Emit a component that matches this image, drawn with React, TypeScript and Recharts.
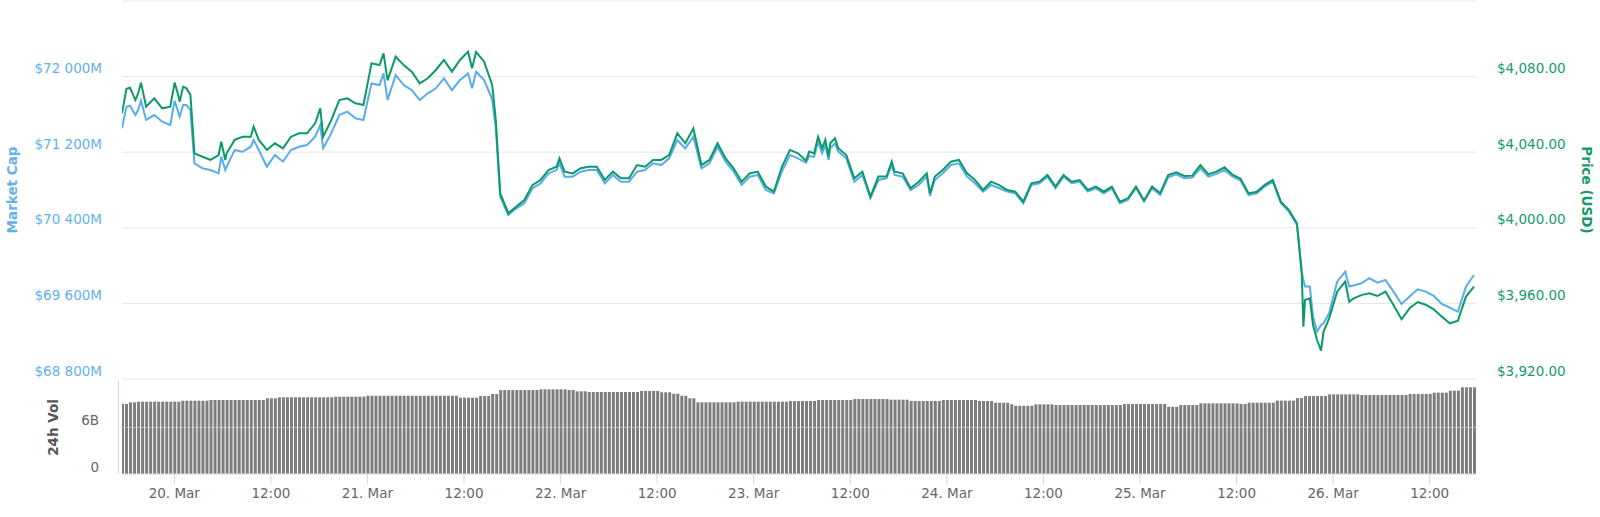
import React from 'react';
import { LineChart, Line, XAxis, YAxis, CartesianGrid, BarChart, Bar, ReferenceLine } from 'recharts';

const HOUR = 3600000;
const DAY0 = Date.UTC(2019, 2, 20, 0, 0);
const START = DAY0 - 6.5 * HOUR; // 19 Mar 17:30
const DOMAIN: [number, number] = [DAY0 - 6.5 * HOUR, DAY0 + 161.75 * HOUR];

// sample times, hours after 19 Mar 17:30
const TIME_H = [
  0, 0.55, 1, 1.66, 2, 2.36, 3, 4, 5, 6,
  6.54, 7, 7.16, 7.6, 8, 8.5, 9, 10, 11, 12,
  12.34, 12.83, 13, 14, 15, 16, 16.36, 17, 18, 19,
  20, 21, 22, 23, 24, 24.64, 25, 26, 27, 28,
  29, 30, 31, 32, 32.5, 33, 34, 35, 36, 37,
  38, 39, 40, 41, 42, 43, 43.5, 44, 45, 46,
  46.45, 47, 48, 49, 50, 51, 52, 53, 54, 54.36,
  55, 56, 57, 58, 59, 60, 61, 62, 63, 64,
  65, 66, 67, 68, 69, 70, 71, 72, 73, 74,
  75, 76, 77, 78, 79, 80, 81, 82, 83, 84,
  85, 85.4, 86, 86.5, 87, 87.4, 87.8, 88, 88.6, 89,
  90, 91, 92, 93, 94, 95, 95.65, 96, 97, 98,
  99, 100, 100.4, 101, 102, 103, 104, 105, 106, 107,
  108, 109, 110, 111, 112, 113, 114, 115, 116, 117,
  118, 119, 120, 121, 122, 123, 124, 125, 126, 127,
  128, 129, 130, 131, 132, 133, 134, 135, 136, 137,
  138, 139, 140, 141, 142, 143, 144, 145, 146, 146.6,
  146.8, 147, 147.6, 148, 148.5, 149, 149.3, 150, 151, 152,
  152.5, 153, 154, 155, 156, 157, 158, 159, 160, 161,
  162, 163, 164, 165, 166, 167, 168,
];

// price (USD)
const PRICE_USD = [
  4060.6, 4073.5, 4074.1, 4067.6, 4071.1, 4076.8, 4064.1, 4068.5, 4063.2, 4064.1,
  4076.8, 4070.0, 4066.7, 4074.7, 4073.8, 4070.3, 4039.4, 4037.6, 4035.9, 4038.5,
  4045.6, 4035.9, 4039.4, 4046.5, 4048.2, 4048.2, 4053.5, 4046.5, 4041.2, 4044.7,
  4042.0, 4048.2, 4050.0, 4050.0, 4055.3, 4063.2, 4048.2, 4057.0, 4067.6, 4068.5,
  4065.9, 4065.0, 4087.0, 4086.1, 4092.3, 4078.0, 4090.6, 4086.1, 4082.6, 4076.4,
  4079.1, 4083.5, 4088.8, 4082.6, 4088.8, 4093.2, 4084.4, 4093.0, 4087.9, 4075.6,
  4057.0, 4018.2, 4007.7, 4011.2, 4014.7, 4022.6, 4025.3, 4030.6, 4032.3, 4036.7,
  4029.7, 4028.8, 4031.5, 4032.3, 4032.3, 4025.3, 4029.7, 4026.2, 4026.2, 4033.2,
  4032.3, 4035.9, 4035.9, 4038.5, 4050.0, 4044.7, 4052.6, 4033.2, 4035.9, 4044.7,
  4036.7, 4031.5, 4024.4, 4028.8, 4029.7, 4021.8, 4019.1, 4032.3, 4041.2, 4039.4,
  4035.5, 4040.3, 4039.4, 4048.2, 4042.1, 4046.5, 4037.6, 4044.7, 4047.3, 4042.1,
  4038.5, 4026.2, 4029.7, 4016.5, 4027.1, 4027.1, 4035.0, 4029.7, 4028.8, 4020.9,
  4024.4, 4028.8, 4018.2, 4027.1, 4030.6, 4035.0, 4035.9, 4028.8, 4025.3, 4020.0,
  4024.4, 4022.6, 4020.0, 4019.1, 4013.8, 4023.5, 4024.4, 4027.9, 4021.8, 4027.9,
  4024.4, 4025.3, 4020.0, 4021.8, 4019.1, 4021.8, 4013.8, 4015.6, 4021.8, 4014.5,
  4021.8, 4018.3, 4027.9, 4029.4, 4027.4, 4027.6, 4033.2, 4028.3, 4029.7, 4032.0,
  4028.1, 4026.0, 4018.2, 4019.1, 4022.7, 4025.3, 4013.8, 4009.4, 4002.4, 3975.9,
  3947.7, 3961.8, 3962.7, 3948.6, 3940.6, 3935.0, 3945.0, 3952.1, 3966.2, 3971.5,
  3960.9, 3962.5, 3964.4, 3965.3, 3963.9, 3966.2, 3959.2, 3951.6, 3957.4, 3960.7,
  3959.3, 3956.9, 3953.0, 3949.4, 3950.9, 3963.6, 3968.9,
];

// market cap (million USD)
const MARKET_CAP_M = [
  71452, 71680, 71692, 71593, 71646, 71745, 71541, 71593, 71523, 71488,
  71745, 71620, 71576, 71699, 71699, 71646, 71082, 71029, 71011, 70976,
  71153, 71011, 71047, 71223, 71205, 71258, 71329, 71223, 71047, 71170,
  71100, 71223, 71258, 71276, 71364, 71488, 71241, 71399, 71593, 71629,
  71558, 71541, 71928, 71911, 72034, 71752, 72017, 71911, 71858, 71752,
  71823, 71876, 71981, 71858, 71964, 72034, 71876, 72052, 71964, 71759,
  71452, 70729, 70535, 70606, 70659, 70817, 70870, 70976, 71011, 71082,
  70941, 70941, 70994, 71011, 71011, 70870, 70959, 70888, 70888, 70994,
  71011, 71082, 71064, 71135, 71329, 71241, 71364, 71029, 71082, 71258,
  71100, 70994, 70853, 70941, 70959, 70800, 70765, 70994, 71170, 71135,
  71090, 71160, 71150, 71312, 71188, 71276, 71118, 71241, 71294, 71206,
  71135, 70888, 70959, 70712, 70906, 70924, 71065, 70959, 70941, 70800,
  70853, 70941, 70737, 70906, 70977, 71065, 71082, 70941, 70871, 70783,
  70853, 70818, 70783, 70765, 70659, 70853, 70871, 70941, 70818, 70941,
  70871, 70888, 70783, 70818, 70765, 70818, 70659, 70694, 70818, 70680,
  70818, 70747, 70934, 70966, 70924, 70931, 71030, 70941, 70970, 71012,
  70941, 70899, 70747, 70765, 70836, 70889, 70659, 70571, 70430, 69936,
  69848, 69778, 69778, 69460, 69301, 69372, 69389, 69495, 69830, 69936,
  69778, 69790, 69813, 69866, 69820, 69848, 69725, 69594, 69672, 69749,
  69725, 69679, 69594, 69555, 69513, 69778, 69901,
];

// half-hourly 24h volume (billion USD)
const VOLUME_24H_B = [
  9.03, 9.03, 9.25, 9.25,
  9.33, 9.33, 9.33, 9.33, 9.33, 9.33, 9.33, 9.33, 9.33, 9.33, 9.33,
  9.46, 9.46, 9.46, 9.46, 9.46, 9.46, 9.46,
  9.55, 9.55, 9.55, 9.55, 9.55, 9.55, 9.55, 9.55, 9.55, 9.55, 9.55, 9.55, 9.55, 9.55,
  9.77, 9.77, 9.77,
  9.90, 9.90, 9.90, 9.90, 9.90, 9.90, 9.90, 9.90, 9.90, 9.90, 9.90, 9.90, 9.90, 9.90,
  9.98, 9.98, 9.98, 9.98, 9.98, 9.98, 9.98, 9.98,
  10.10, 10.10, 10.10, 10.10, 10.10, 10.10, 10.10, 10.10, 10.10, 10.10, 10.10, 10.10,
  10.10, 10.10, 10.10, 10.10, 10.10, 10.10, 10.10, 10.10, 10.10, 10.10, 10.10,
  9.85, 9.85, 9.85, 9.85, 9.85,
  10.06, 10.06, 10.06,
  10.32, 10.32,
  10.84, 10.84, 10.84, 10.84, 10.84, 10.84, 10.84, 10.84, 10.84, 10.84,
  10.93, 10.93, 10.93, 10.93, 10.93, 10.93, 10.93,
  10.84, 10.84,
  10.67, 10.67, 10.67,
  10.58, 10.58, 10.58, 10.58, 10.58, 10.58, 10.58, 10.58, 10.58, 10.58, 10.58, 10.58, 10.58,
  10.71, 10.71, 10.71, 10.71, 10.71,
  10.54, 10.54, 10.54,
  10.36, 10.36,
  10.10, 10.10,
  9.77, 9.77,
  9.25, 9.25, 9.25, 9.25, 9.25, 9.25, 9.25, 9.25, 9.25, 9.25,
  9.33, 9.33, 9.33, 9.33, 9.33, 9.33, 9.33, 9.33, 9.33, 9.33, 9.33, 9.33, 9.33,
  9.42, 9.42, 9.42, 9.42, 9.42, 9.42, 9.42,
  9.55, 9.55, 9.55, 9.55, 9.55, 9.55, 9.55, 9.55, 9.55,
  9.68, 9.68, 9.68, 9.68, 9.68, 9.68, 9.68, 9.68, 9.68,
  9.59, 9.59, 9.59, 9.59, 9.59,
  9.42, 9.42, 9.42, 9.42, 9.42, 9.42, 9.42, 9.42,
  9.55, 9.55, 9.55, 9.55, 9.55, 9.55, 9.55, 9.55, 9.55,
  9.42, 9.42, 9.42, 9.42,
  9.20, 9.20, 9.20, 9.20,
  8.99,
  8.81, 8.81, 8.81, 8.81, 8.81,
  8.99, 8.99, 8.99, 8.99, 8.99,
  8.90, 8.90, 8.90, 8.90, 8.90, 8.90, 8.90, 8.90, 8.90, 8.90, 8.90, 8.90, 8.90, 8.90, 8.90, 8.90, 8.90,
  9.03, 9.03, 9.03, 9.03, 9.03, 9.03, 9.03, 9.03, 9.03, 9.03, 9.03,
  8.68, 8.68, 8.68,
  8.90, 8.90, 8.90, 8.90, 8.90,
  9.12, 9.12, 9.12, 9.12, 9.12, 9.12, 9.12, 9.12, 9.12, 9.12,
  9.03, 9.03,
  9.20, 9.20, 9.20, 9.20, 9.20, 9.20, 9.20,
  9.46, 9.46, 9.46, 9.46, 9.46,
  9.81, 9.81,
  10.06, 10.06, 10.06, 10.06, 10.06, 10.06,
  10.28, 10.28, 10.28, 10.28, 10.28, 10.28, 10.28, 10.28,
  10.19, 10.19, 10.19, 10.19, 10.19, 10.19, 10.19, 10.19, 10.19, 10.19, 10.19, 10.19,
  10.32, 10.32, 10.32, 10.32, 10.32, 10.32,
  10.49, 10.49, 10.49, 10.49,
  10.75, 10.75, 10.75,
  11.19, 11.19, 11.19, 11.19,
];

const MC_TICKS = [68800, 69600, 70400, 71200, 72000, 72800];
const PRICE_TICKS = [3920, 3960, 4000, 4040, 4080, 4120];
const VOL_TICKS = [0, 6, 12];
const X_TICK_HOURS = [0, 12, 24, 36, 48, 60, 72, 84, 96, 108, 120, 132, 144, 156];
const X_TICK_LABELS = [
  '20. Mar', '12:00', '21. Mar', '12:00', '22. Mar', '12:00', '23. Mar',
  '12:00', '24. Mar', '12:00', '25. Mar', '12:00', '26. Mar', '12:00',
];
const X_TICKS = X_TICK_HOURS.map((h) => DAY0 + h * HOUR);

const lineData = TIME_H.map((h, k) => ({ t: START + h * HOUR, price: PRICE_USD[k], mcap: MARKET_CAP_M[k] }));
const volData = VOLUME_24H_B.map((v, j) => ({ t: START + (j * HOUR) / 2, vol: v }));

const FONT = 'DejaVu Sans';
const FS = 13.5;
const BLUE = '#58adea';
const BLUE_TEXT = '#62b1ea';
const GREEN = '#0b9a67';
const GREEN_TEXT = '#179a6b';
const GRAY_TEXT = '#666666';

const fmtMc = (v: number) => {
  const th = Math.floor(v / 1000);
  const rest = String(v % 1000).padStart(3, '0');
  return `$${th} ${rest}M`;
};
const fmtPrice = (v: number) =>
  '$' + v.toLocaleString('en-US', { minimumFractionDigits: 2, maximumFractionDigits: 2 });

const LeftTick = (props: any) => {
  const { x, y, payload } = props;
  if (payload.value === 72800) return <g />;
  return (
    <text x={x} y={y - 3.5} textAnchor="end" fill={BLUE_TEXT} fontSize={FS} fontFamily={FONT}>
      {fmtMc(payload.value)}
    </text>
  );
};

const RightTick = (props: any) => {
  const { x, y, payload } = props;
  if (payload.value === 4120) return <g />;
  return (
    <text x={x} y={y - 3.5} textAnchor="start" fill={GREEN_TEXT} fontSize={FS} fontFamily={FONT}>
      {fmtPrice(payload.value)}
    </text>
  );
};

const VolTick = (props: any) => {
  const { x, y, payload } = props;
  if (payload.value === 12) return <g />;
  return (
    <text x={x} y={y - 2.5} textAnchor="end" fill={GRAY_TEXT} fontSize={FS} fontFamily={FONT}>
      {payload.value === 0 ? '0' : `${payload.value}B`}
    </text>
  );
};

const XTick = (props: any) => {
  const { x, y, payload } = props;
  const idx = X_TICKS.indexOf(payload.value);
  return (
    <text x={x} y={y + 12} textAnchor="middle" fill={GRAY_TEXT} fontSize={FS} fontFamily={FONT}>
      {idx >= 0 ? X_TICK_LABELS[idx] : ''}
    </text>
  );
};

const makeTitle = (text: string, dx: number, angle: number, color: string) => (p: any) => {
  const vb = p.viewBox || {};
  const cx = (vb.x || 0) + dx;
  const cy = (vb.y || 0) + (vb.height || 0) / 2;
  return (
    <text
      x={cx}
      y={cy}
      transform={`rotate(${angle}, ${cx}, ${cy})`}
      textAnchor="middle"
      dominantBaseline="central"
      fill={color}
      fontSize={13.5}
      fontWeight="bold"
      fontFamily={FONT}
    >
      {text}
    </text>
  );
};

export default function App() {
  return (
    <div style={{ position: 'absolute', left: 0, top: 0, width: 1600, height: 517, background: '#fff' }}>
      <div style={{ position: 'absolute', left: 0, top: 0 }}>
        <LineChart width={1600} height={380} data={lineData} margin={{ top: 1, right: 0, bottom: 1, left: 0 }}>
          <CartesianGrid yAxisId="mc" vertical={false} stroke="#e6e6e6" />
          <XAxis dataKey="t" type="number" domain={DOMAIN} allowDataOverflow hide />
          <YAxis
            yAxisId="mc"
            orientation="left"
            width={122}
            domain={[68800, 72800]}
            ticks={MC_TICKS}
            allowDataOverflow
            axisLine={false}
            tickLine={false}
            tickSize={0}
            tickMargin={20}
            tick={<LeftTick />}
            interval={0}
            label={makeTitle('Market Cap', 12, -90, BLUE_TEXT)}
          />
          <YAxis
            yAxisId="pr"
            orientation="right"
            width={124}
            domain={[3920, 4120]}
            ticks={PRICE_TICKS}
            allowDataOverflow
            axisLine={false}
            tickLine={false}
            tickSize={0}
            tickMargin={21}
            tick={<RightTick />}
            interval={0}
            label={makeTitle('Price (USD)', 111, 90, GREEN_TEXT)}
          />
          <Line
            yAxisId="mc"
            type="linear"
            dataKey="mcap"
            stroke={BLUE}
            strokeWidth={2}
            dot={false}
            activeDot={false}
            isAnimationActive={false}
          />
          <Line
            yAxisId="pr"
            type="linear"
            dataKey="price"
            stroke={GREEN}
            strokeWidth={2}
            dot={false}
            activeDot={false}
            isAnimationActive={false}
          />
        </LineChart>
      </div>
      <div style={{ position: 'absolute', left: 0, top: 381 }}>
        <BarChart width={1600} height={136} data={volData} margin={{ top: 0, right: 124, bottom: 13, left: 0 }}>
          <XAxis
            dataKey="t"
            type="number"
            domain={DOMAIN}
            allowDataOverflow
            ticks={X_TICKS}
            interval={0}
            height={30}
            tickSize={10}
            tickMargin={2}
            tickLine={{ stroke: '#ccd6eb' }}
            axisLine={{ stroke: '#ccd6eb' }}
            tick={<XTick />}
          />
          <YAxis
            width={122}
            domain={[0, 12]}
            ticks={VOL_TICKS}
            interval={0}
            axisLine={false}
            tickLine={false}
            tickSize={0}
            tickMargin={23}
            tick={<VolTick />}
            label={makeTitle('24h Vol', 53, -90, '#555555')}
          />
          <Bar dataKey="vol" fill="#7e7e7e" barSize={3} isAnimationActive={false} />
          <ReferenceLine y={6} stroke="#ffffff" strokeOpacity={0.35} />
        </BarChart>
      </div>
      <div style={{ position: 'absolute', left: 118, top: 381, width: 1, height: 93, background: '#ccd6eb' }} />
    </div>
  );
}
